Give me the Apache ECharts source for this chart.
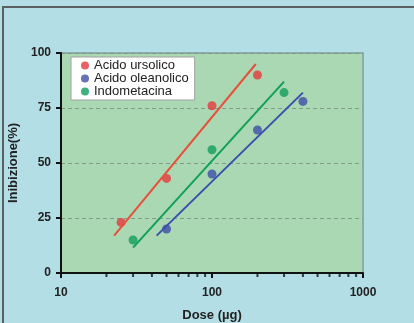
<!DOCTYPE html>
<html>
<head>
<meta charset="utf-8">
<script src="https://cdn.jsdelivr.net/npm/echarts@6/dist/echarts.min.js"></script>
<style>
  html, body { margin: 0; padding: 0; background: #b3dee5; }
  #chart { width: 414px; height: 323px; }
</style>
</head>
<body>
<div id="chart"></div>
<script>
// serie di dati (dose in µg, inibizione in %)
var seriesNames = ['Acido ursolico', 'Acido oleanolico', 'Indometacina'];
var seriesColors = ['#e63a3c', '#3e4ea6', '#119e5e'];

var ursolicoDose = [25, 50, 100, 200];
var ursolicoInib = [23, 43, 76, 90];
var oleanolicoDose = [50, 100, 200, 400];
var oleanolicoInib = [20, 45, 65, 78];
var indoDose = [30, 100, 300];
var indoInib = [15, 56, 82];

// rette di regressione (estremi)
var ursolicoFitDose = [22.5, 195];
var ursolicoFitInib = [17, 95];
var oleanolicoFitDose = [43, 400];
var oleanolicoFitInib = [17, 82];
var indoFitDose = [30, 300];
var indoFitInib = [11.5, 87];

// tacche minori asse x
var minorTicks = [20, 30, 40, 50, 60, 70, 80, 90, 200, 300, 400, 500, 600, 700, 800, 900];

function pairs(xs, ys) {
  var out = [];
  for (var i = 0; i < xs.length; i++) {
    out.push([xs[i], ys[i]]);
  }
  return out;
}

var chart = echarts.init(document.getElementById('chart'), null, { renderer: 'canvas' });
var font = '"Liberation Sans", Arial, sans-serif';

var option = {
  backgroundColor: '#b3dee5',
  animation: false,
  textStyle: { fontFamily: font },
  graphic: [{
    type: 'polyline',
    shape: { points: [[3, 323], [3, 7], [414, 7]] },
    style: { stroke: '#5a5f60', lineWidth: 2, fill: null }
  }],
  grid: {
    left: 61, right: 51, top: 53, bottom: 50,
    outerBoundsMode: 'none',
    containLabel: false,
    show: true,
    backgroundColor: '#a9d8b2',
    borderColor: '#7f9f9a',
    borderWidth: 1.5
  },
  legend: {
    orient: 'vertical',
    left: 71, top: 57,
    padding: [2, 6, 2, 10],
    itemGap: 0,
    itemWidth: 8, itemHeight: 8,
    itemTextGap: 4,
    icon: 'circle',
    backgroundColor: '#ffffff',
    borderColor: '#a0a0a0',
    borderWidth: 1,
    data: seriesNames,
    textStyle: { fontFamily: font, fontSize: 13, color: '#222', lineHeight: 13 }
  },
  xAxis: {
    type: 'log',
    logBase: 10,
    min: 10, max: 1000,
    name: 'Dose (µg)',
    nameLocation: 'middle',
    nameGap: 36,
    nameTextStyle: { fontFamily: font, fontSize: 13, fontWeight: 'bold', color: '#222' },
    axisLine: { lineStyle: { color: '#111', width: 2 } },
    axisTick: { show: true, inside: false, length: 5, lineStyle: { color: '#111', width: 2 } },
    axisLabel: {
      margin: 14, fontFamily: font, fontSize: 12, fontWeight: 'bold', color: '#222',
      formatter: function (v) { return String(Math.round(v)); }
    },
    splitLine: { show: false },
    minorTick: { show: false }
  },
  yAxis: {
    type: 'value',
    min: 0, max: 100, interval: 25,
    name: 'Inibizione(%)',
    nameLocation: 'middle',
    nameGap: 38,
    nameTextStyle: { fontFamily: font, fontSize: 13, fontWeight: 'bold', color: '#222' },
    axisLine: { show: true, lineStyle: { color: '#111', width: 2 } },
    axisTick: { show: true, inside: false, length: 5, lineStyle: { color: '#111', width: 2 } },
    axisLabel: { margin: 10, fontFamily: font, fontSize: 12, fontWeight: 'bold', color: '#222' },
    splitLine: { show: true, lineStyle: { color: '#7f9a86', type: [4, 3], width: 1 } }
  },
  series: [
    {
      type: 'line', silent: true, symbol: 'none',
      lineStyle: { color: '#e8503c', width: 2 },
      data: pairs(ursolicoFitDose, ursolicoFitInib)
    },
    {
      type: 'line', silent: true, symbol: 'none',
      lineStyle: { color: '#3b4fae', width: 2 },
      data: pairs(oleanolicoFitDose, oleanolicoFitInib)
    },
    {
      type: 'line', silent: true, symbol: 'none',
      lineStyle: { color: '#10a056', width: 2 },
      data: pairs(indoFitDose, indoFitInib)
    },
    {
      name: seriesNames[0], type: 'scatter', symbolSize: 9,
      itemStyle: { color: seriesColors[0] },
      data: pairs(ursolicoDose, ursolicoInib)
    },
    {
      name: seriesNames[1], type: 'scatter', symbolSize: 9,
      itemStyle: { color: seriesColors[1] },
      data: pairs(oleanolicoDose, oleanolicoInib)
    },
    {
      name: seriesNames[2], type: 'scatter', symbolSize: 9,
      itemStyle: { color: seriesColors[2] },
      data: pairs(indoDose, indoInib)
    },
    {
      // tacche minori sotto l'asse x
      type: 'scatter', silent: true, clip: false,
      symbol: 'rect', symbolSize: [2, 4], symbolOffset: [0, 2],
      itemStyle: { color: '#111' },
      z: 5,
      data: minorTicks.map(function (v) { return [v, 0]; })
    }
  ]
};

chart.setOption(option);
</script>
</body>
</html>
